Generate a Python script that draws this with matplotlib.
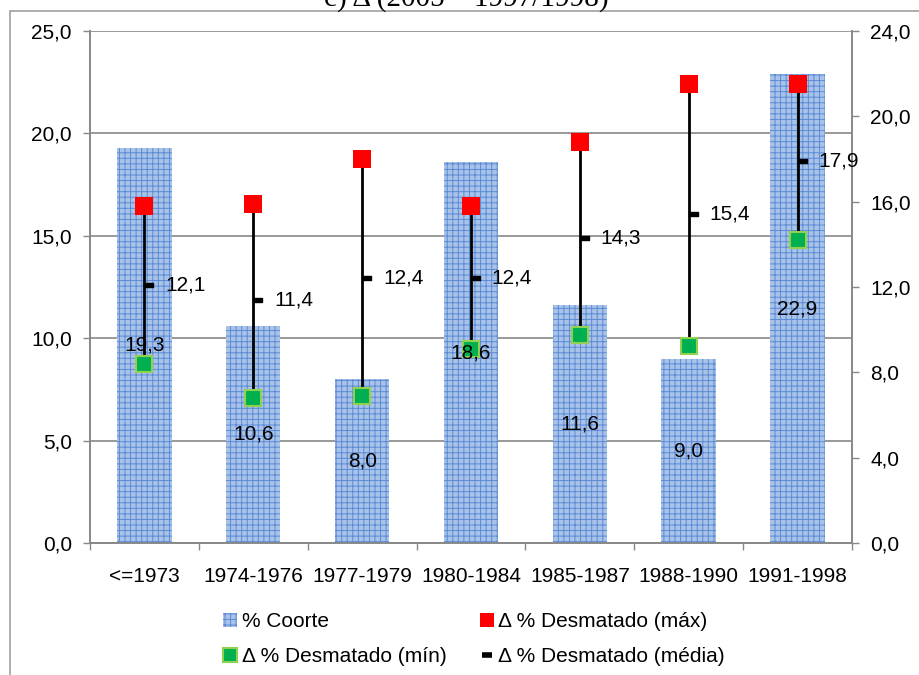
import numpy as np
import matplotlib
matplotlib.use("Agg")
import matplotlib.pyplot as plt
from matplotlib.ticker import FuncFormatter, FixedLocator
from matplotlib.lines import Line2D
from matplotlib.patches import Patch, Rectangle
from matplotlib.path import Path

# dados
categorias = ["<=1973", "1974-1976", "1977-1979", "1980-1984", "1985-1987", "1988-1990", "1991-1998"]
coorte = [19.3, 10.6, 8.0, 18.6, 11.6, 9.0, 22.9]
desm_max = [15.8, 15.9, 18.0, 15.8, 18.8, 21.5, 21.5]
desm_min = [8.4, 6.8, 6.9, 9.1, 9.75, 9.25, 14.2]
desm_media = [12.1, 11.4, 12.4, 12.4, 14.3, 15.4, 17.9]

plt.rcParams["font.family"] = ["Liberation Sans", "DejaVu Sans"]
plt.rcParams["hatch.linewidth"] = 0.7

def virgula(v, pos):
    return f"{v:.1f}".replace(".", ",")

fig = plt.figure(figsize=(9.2, 6.75), dpi=100)
ax1 = fig.add_axes([90/920, 1 - 543/675, (852-90)/920, (543-31)/675])
ax2 = ax1.twinx()

x = np.arange(len(categorias))
cinza = "#888888"

# barras % Coorte
ax1.bar(x, coorte, width=0.5, color="#A9C2E8", edgecolor="#5B8BD6",
        linewidth=0, hatch="+++", zorder=2)
ax1.set_ylim(0, 25)
ax1.set_xlim(-0.5, len(categorias) - 0.5)
ax1.yaxis.set_major_locator(FixedLocator(np.arange(0, 26, 5)))
ax1.yaxis.set_major_formatter(FuncFormatter(virgula))
ax1.grid(axis="y", color=cinza, linewidth=1.2, zorder=0)
ax1.set_axisbelow(True)

# eixo x: marcas entre categorias, rótulos no centro
ax1.xaxis.set_major_locator(FixedLocator(np.arange(-0.5, len(categorias), 1)))
ax1.xaxis.set_major_formatter(FuncFormatter(lambda v, p: ""))
ax1.xaxis.set_minor_locator(FixedLocator(x))
ax1.set_xticklabels(categorias, minor=True)
ax1.tick_params(axis="x", which="major", length=5, color=cinza, width=1)
ax1.tick_params(axis="x", which="minor", length=0, pad=17, labelsize=15)
ax1.tick_params(axis="y", length=5, color=cinza, width=1, pad=8, labelsize=15)

# eixo secundário
ax2.set_ylim(0, 24)
ax2.yaxis.set_major_locator(FixedLocator(np.arange(0, 25, 4)))
ax2.yaxis.set_major_formatter(FuncFormatter(virgula))
ax2.tick_params(axis="y", length=5, color=cinza, width=1, pad=8, labelsize=15)

for a in (ax1, ax2):
    a.spines["top"].set_visible(False)
    for s in ("left", "right", "bottom"):
        a.spines[s].set_color(cinza)
        a.spines[s].set_linewidth(1.2)

# linhas máx-mín
ax2.vlines(x, desm_min, desm_max, color="black", linewidth=2, zorder=3)

# marcador da média (traço à direita da linha)
traco = Path([(0, -0.22), (1, -0.22), (1, 0.22), (0, 0.22), (0, -0.22)],
             [Path.MOVETO, Path.LINETO, Path.LINETO, Path.LINETO, Path.CLOSEPOLY])
ax2.plot(x, desm_media, linestyle="none", marker=traco, markersize=13,
         color="black", zorder=4)
ax2.plot(x, desm_max, linestyle="none", marker="s", markersize=13,
         color="#FF0000", markeredgewidth=0, zorder=5)
ax2.plot(x, desm_min, linestyle="none", marker="s", markersize=12,
         markerfacecolor="#00B050", markeredgecolor="#92D050",
         markeredgewidth=1.5, zorder=5)

for xi, v in zip(x, desm_media):
    ax2.annotate(virgula(v, None), (xi, v), xytext=(15, 0), textcoords="offset points",
                 ha="left", va="center", fontsize=15, zorder=6)

for xi, v in zip(x, coorte):
    ax2.text(xi, v / 2, virgula(v, None), transform=ax1.transData,
             ha="center", va="center", fontsize=15, zorder=6)

# legenda
h_coorte = Patch(facecolor="#A9C2E8", edgecolor="#5B8BD6", linewidth=0, hatch="+++",
                 label="% Coorte")
h_max = Line2D([], [], linestyle="none", marker="s", markersize=10, color="#FF0000",
               markeredgewidth=0, label="Δ % Desmatado (máx)")
h_min = Line2D([], [], linestyle="none", marker="s", markersize=10,
               markerfacecolor="#00B050", markeredgecolor="#92D050",
               markeredgewidth=1.5, label="Δ % Desmatado (mín)")
h_media = Line2D([], [], linestyle="none", marker="_", markersize=7,
                 markeredgewidth=4, color="black", label="Δ % Desmatado (média)")
fig.legend(handles=[h_coorte, h_min, h_max, h_media], ncol=2, frameon=False,
           loc="center", bbox_to_anchor=(474/920, 1 - 639/675), fontsize=15,
           handlelength=0.7, handleheight=0.7, handletextpad=0.2,
           columnspacing=1.6, labelspacing=0.75)

# moldura da área do gráfico
fig.patches.append(Rectangle((10/920, -0.1), 1.2, 1 - 11/675 + 0.1,
                             transform=fig.transFigure, fill=False,
                             edgecolor="#A0A0A0", linewidth=1.2))

# título (cortado no topo, como no original)
fig.text(466/920, 1 - 6/675, "c) Δ (2005 – 1997/1998)", ha="center", va="baseline",
         fontsize=21, family=["Liberation Serif", "DejaVu Serif"])

fig.savefig("out.png", dpi=100)
